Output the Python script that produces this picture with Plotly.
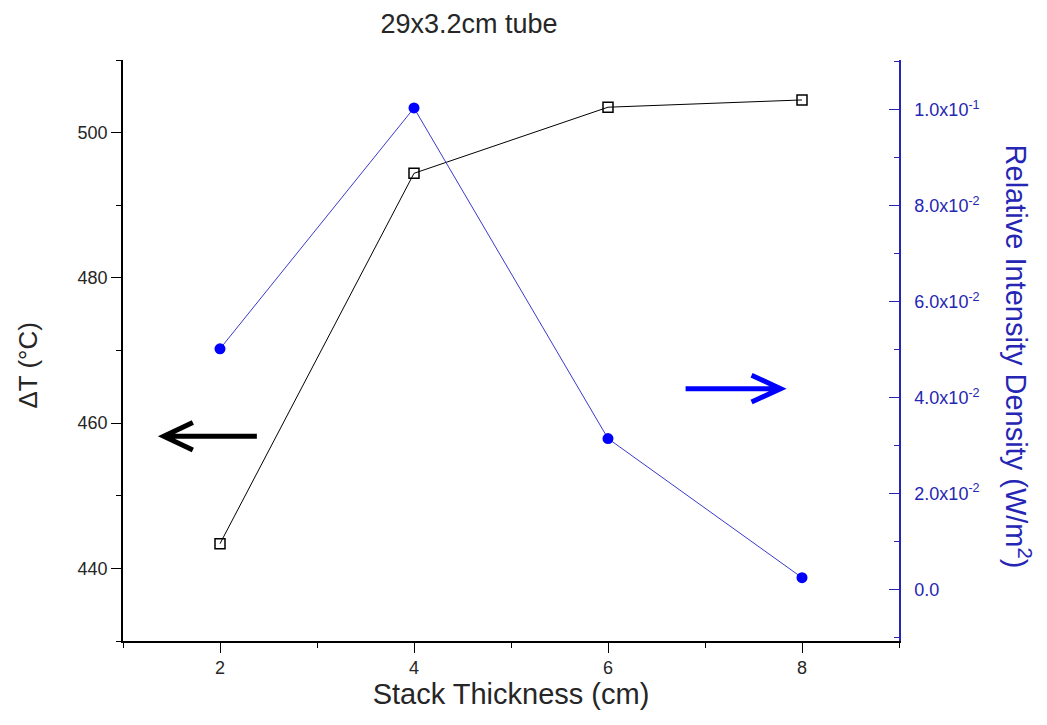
import plotly.graph_objects as go

# Stack thickness (cm)
thickness = [2, 4, 6, 8]
# Temperature difference across the stack (°C)
delta_t = [443.4, 494.4, 503.5, 504.5]
# Relative intensity density (W/m^2)
intensity = [0.0502, 0.1004, 0.0315, 0.0025]

# Right-axis tick labels
y2_tickvals = [0.0, 0.02, 0.04, 0.06, 0.08, 0.10]
y2_ticktext = ["0.0", "2.0x10<sup>-2</sup>", "4.0x10<sup>-2</sup>", "6.0x10<sup>-2</sup>",
               "8.0x10<sup>-2</sup>", "1.0x10<sup>-1</sup>"]

BLUE = "#2626b4"
INK = "#262626"
FONT = "Liberation Sans, Arial, sans-serif"

fig = go.Figure()

fig.add_trace(go.Scatter(
    x=thickness, y=delta_t, mode="lines+markers",
    line=dict(color="black", width=1),
    marker=dict(symbol="square-open", size=10, color="black", line=dict(width=1.5)),
    showlegend=False, yaxis="y",
))
fig.add_trace(go.Scatter(
    x=thickness, y=intensity, mode="lines+markers",
    line=dict(color="#3a3acc", width=1),
    marker=dict(symbol="circle", size=11, color="#0000ff"),
    showlegend=False, yaxis="y2",
))

fig.update_layout(
    width=1047, height=725,
    margin=dict(l=123, r=148, t=60, b=84),
    paper_bgcolor="white", plot_bgcolor="white",
    title=dict(text="29x3.2cm tube", x=0.448, xref="container", xanchor="center",
               y=0.968, yref="container", yanchor="middle",
               font=dict(family=FONT, size=27, color=INK)),
    xaxis=dict(
        range=[1, 9], tickmode="linear", tick0=2, dtick=2,
        ticks="outside", ticklen=10, tickwidth=1.2, tickcolor="black",
        minor=dict(tick0=1, dtick=1, ticks="outside", ticklen=5, tickcolor="black", tickwidth=1.2),
        showline=True, linecolor="black", linewidth=1.5,
        showgrid=False, zeroline=False,
        tickfont=dict(family=FONT, size=18, color=INK),
        title=dict(text="Stack Thickness (cm)", font=dict(family=FONT, size=29, color=INK),
                   standoff=4),
    ),
    xaxis2=dict(
        range=[1, 9], overlaying="x", side="top", anchor="y",
        tickmode="linear", tick0=1, dtick=1, ticks="inside", ticklen=9, tickwidth=1.2,
        tickcolor="black", showticklabels=False,
        showline=True, linecolor="black", linewidth=1.5, showgrid=False, zeroline=False,
    ),
    yaxis=dict(
        range=[430, 510], tickmode="linear", tick0=440, dtick=20,
        ticks="outside", ticklen=10, tickwidth=1.2, tickcolor="black",
        minor=dict(tick0=430, dtick=10, ticks="outside", ticklen=5, tickcolor="black", tickwidth=1.2),
        showline=True, linecolor="black", linewidth=1.5,
        showgrid=False, zeroline=False,
        tickfont=dict(family=FONT, size=18, color=INK),
    ),
    yaxis2=dict(
        range=[-0.0107, 0.1104], overlaying="y", side="right", anchor="x",
        tickmode="array", tickvals=y2_tickvals, ticktext=y2_ticktext,
        ticks="inside", ticklen=10, tickwidth=1.2, tickcolor=BLUE,
        minor=dict(tickmode="linear", tick0=0.01, dtick=0.02, ticks="inside", ticklen=5,
                   tickcolor=BLUE, tickwidth=1.2),
        showline=True, linecolor=BLUE, linewidth=1.5,
        showgrid=False, zeroline=False, ticklabelstandoff=10,
        tickfont=dict(family=FONT, size=18, color=BLUE),
    ),
)

# Axis titles for the two y axes
fig.add_annotation(text="ΔT (°C)", xref="paper", yref="paper", x=-0.123, y=0.475,
                   textangle=-90, showarrow=False, xanchor="center", yanchor="middle",
                   font=dict(family=FONT, size=26, color=INK))
fig.add_annotation(text="Relative Intensity Density (W/m<sup>2</sup>)", xref="paper", yref="paper",
                   x=1.153, y=0.49, textangle=90, showarrow=False,
                   xanchor="center", yanchor="middle",
                   font=dict(family=FONT, size=29, color=BLUE))

# Arrows pointing to the axis each series belongs to
fig.add_shape(type="path", xref="x", yref="y",
              path="M 2.38,458.2 L 1.42,458.2 M 1.72,460.1 L 1.42,458.2 L 1.72,456.3",
              line=dict(color="black", width=5))
fig.add_shape(type="path", xref="x", yref="y2",
              path="M 6.80,0.0419 L 7.78,0.0419 M 7.48,0.0447 L 7.78,0.0419 L 7.48,0.0391",
              line=dict(color="#0000ff", width=5))

fig.write_html("out.html")
